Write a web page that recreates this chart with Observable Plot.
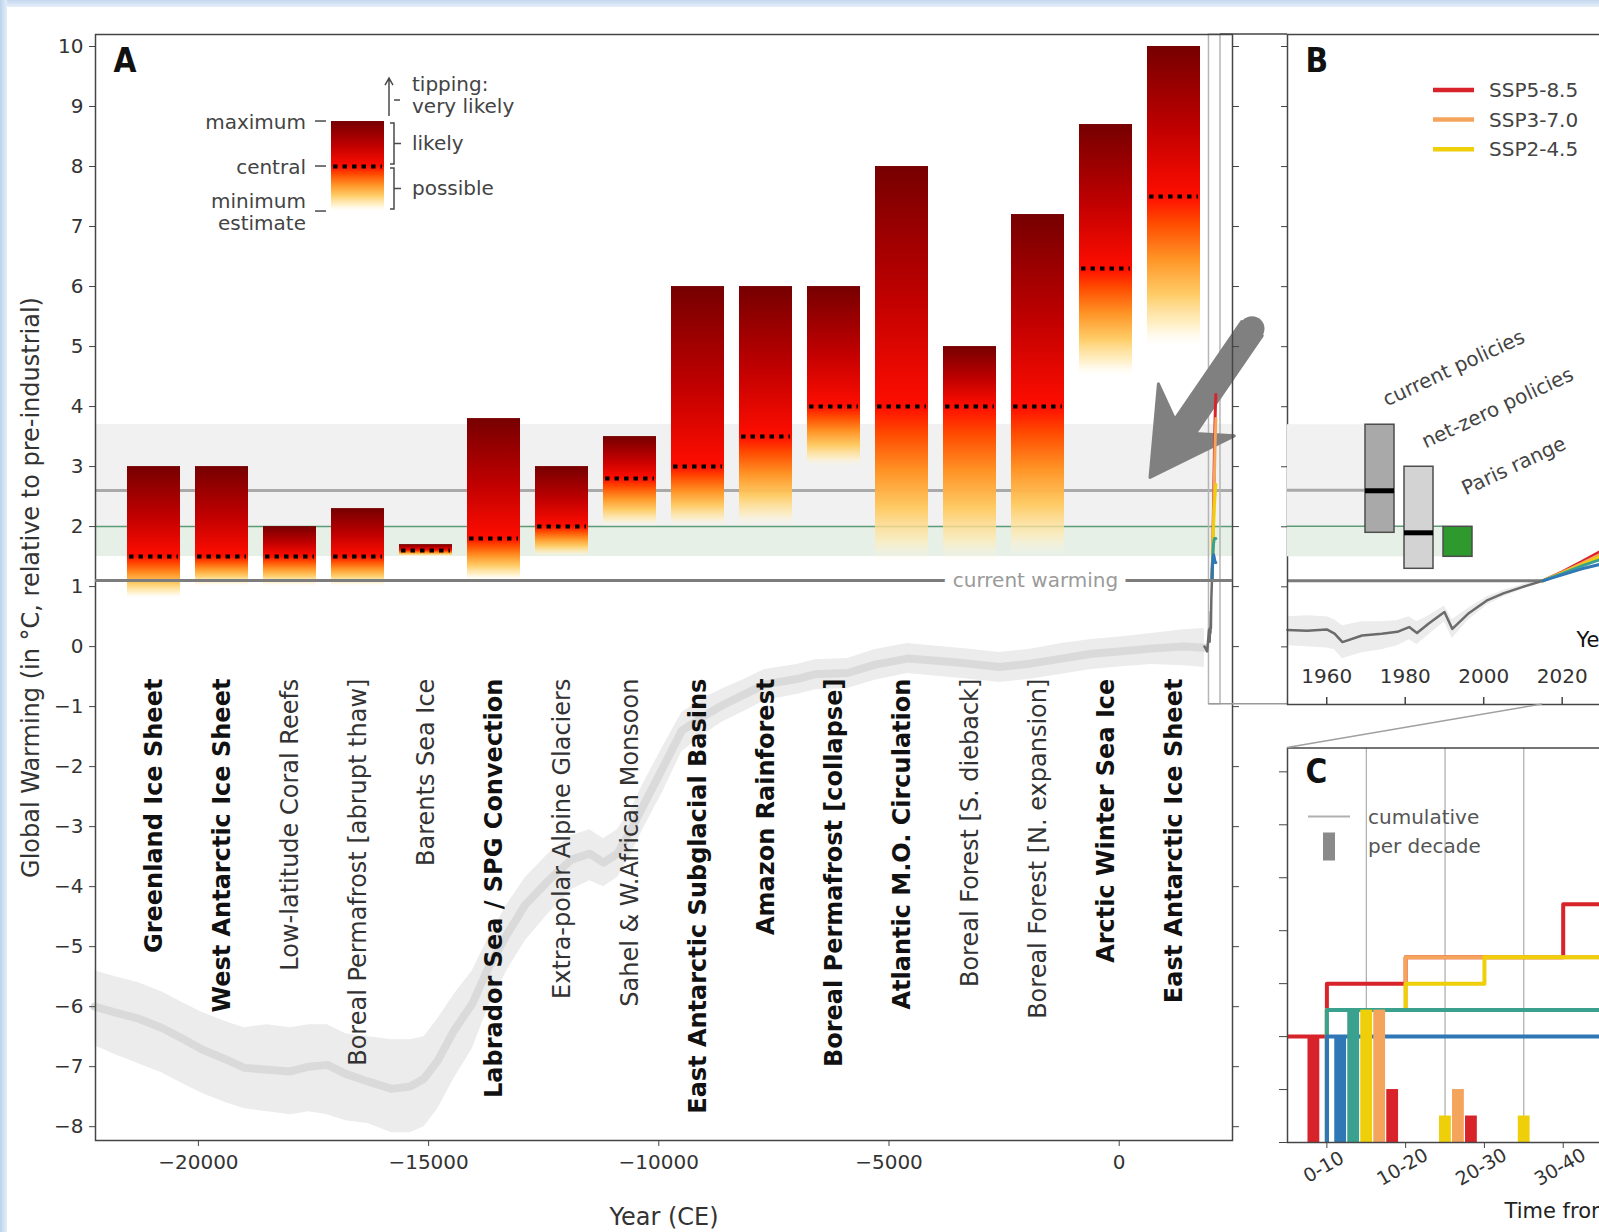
<!DOCTYPE html>
<html>
<head>
<meta charset="utf-8">
<script src="https://cdn.jsdelivr.net/npm/d3@7"></script>
<script src="https://cdn.jsdelivr.net/npm/@observablehq/plot@0.6"></script>
<style>
  html, body { margin: 0; padding: 0; background: #ffffff; }
  #fig { position: relative; width: 1599px; height: 1232px; overflow: hidden; background: #ffffff; }
  .edge-top { position: absolute; left: 0; top: 0; width: 1599px; height: 7px; background: linear-gradient(#c4d8ef, #e6eff9); }
  .edge-left { position: absolute; left: 0; top: 0; width: 7px; height: 1232px; background: linear-gradient(90deg, #bcd3ec, #e4eef9); }
</style>
</head>
<body>
<div id="fig"><div class="edge-top"></div><div class="edge-left"></div></div>
<script>
// ===================== DATA =====================
// Panel A: tipping elements and their threshold estimates (°C)
const elementNames = [
  "Greenland Ice Sheet", "West Antarctic Ice Sheet", "Low-latitude Coral Reefs",
  "Boreal Permafrost [abrupt thaw]", "Barents Sea Ice", "Labrador Sea / SPG Convection",
  "Extra-polar Alpine Glaciers", "Sahel & W.African Monsoon", "East Antarctic Subglacial Basins",
  "Amazon Rainforest", "Boreal Permafrost [collapse]", "Atlantic M.O. Circulation",
  "Boreal Forest [S. dieback]", "Boreal Forest [N. expansion]", "Arctic Winter Sea Ice",
  "East Antarctic Ice Sheet"
];
const thresholdMin     = [0.8, 1.0, 1.0, 1.0, 1.5, 1.1, 1.5, 2.0, 2.0, 2.0, 3.0, 1.4, 1.4, 1.5, 4.5, 5.0];
const thresholdCentral = [1.5, 1.5, 1.5, 1.5, 1.6, 1.8, 2.0, 2.8, 3.0, 3.5, 4.0, 4.0, 4.0, 4.0, 6.3, 7.5];
const thresholdMax     = [3.0, 3.0, 2.0, 2.3, 1.7, 3.8, 3.0, 3.5, 6.0, 6.0, 6.0, 8.0, 5.0, 7.2, 8.7, 10.0];
const isCoreElement    = [true, true, false, false, false, true, false, false, true, true, true, true, false, false, true, true];

// legend glyph (example threshold)
const legendGlyph = {min: 7.25, central: 8.0, max: 8.75};

// Temperature reconstruction since the Last Glacial Maximum
const holoYears = [-22250, -21800, -21300, -20800, -20300, -19900, -19400, -19000, -18500, -18000, -17600, -17200, -16800, -16300, -15800, -15400, -15100, -14800, -14450, -14050, -13700, -13300, -12900, -12400, -11900, -11500, -11200, -10900, -10600, -10350, -9900, -9500, -9000, -8600, -8150, -7700, -7000, -6600, -5900, -5300, -4600, -3900, -3300, -2600, -1900, -1250, -600, 0, 700, 1400, 1850];
const holoMid = [-6.0, -6.1, -6.2, -6.35, -6.55, -6.72, -6.88, -7.02, -7.05, -7.08, -7.0, -6.97, -7.12, -7.25, -7.37, -7.33, -7.2, -6.9, -6.4, -5.95, -5.35, -4.8, -4.3, -3.9, -3.55, -3.45, -3.6, -3.45, -3.05, -2.67, -2.0, -1.4, -1.15, -0.97, -0.8, -0.63, -0.54, -0.46, -0.44, -0.3, -0.2, -0.24, -0.28, -0.34, -0.28, -0.2, -0.12, -0.08, -0.03, 0.0, -0.02];
const holoHi = [-5.4, -5.5, -5.6, -5.75, -5.95, -6.1, -6.25, -6.35, -6.3, -6.35, -6.3, -6.3, -6.45, -6.5, -6.55, -6.55, -6.5, -6.2, -5.8, -5.4, -4.85, -4.3, -3.85, -3.45, -3.15, -3.05, -3.2, -3.05, -2.7, -2.3, -1.65, -1.1, -0.85, -0.7, -0.55, -0.38, -0.3, -0.22, -0.2, -0.05, 0.05, 0.0, -0.04, -0.1, -0.04, 0.05, 0.12, 0.16, 0.22, 0.28, 0.3];
const holoLo = [-6.65, -6.8, -6.95, -7.1, -7.3, -7.45, -7.6, -7.7, -7.75, -7.8, -7.75, -7.8, -7.9, -7.95, -8.1, -8.1, -8.0, -7.7, -7.2, -6.7, -6.0, -5.4, -4.9, -4.45, -4.05, -3.9, -4.0, -3.85, -3.45, -3.05, -2.4, -1.75, -1.45, -1.25, -1.08, -0.9, -0.8, -0.72, -0.7, -0.56, -0.45, -0.5, -0.54, -0.6, -0.54, -0.46, -0.38, -0.34, -0.3, -0.32, -0.35];

// Observed warming
const obsYears = [1850, 1880, 1910, 1940, 1950, 1955, 1960, 1962, 1964, 1969, 1974, 1978, 1981, 1983, 1986, 1990, 1992, 1996, 2001, 2005, 2010, 2015];
const obsT     = [0.0, -0.03, -0.08, 0.18, 0.28, 0.27, 0.29, 0.22, 0.08, 0.19, 0.22, 0.25, 0.33, 0.23, 0.39, 0.58, 0.30, 0.55, 0.78, 0.89, 1.0, 1.1];
const obsHi    = [0.2, 0.17, 0.12, 0.4, 0.5, 0.52, 0.5, 0.45, 0.35, 0.42, 0.42, 0.44, 0.5, 0.42, 0.52, 0.68, 0.45, 0.64, 0.84, 0.94, 1.04, 1.13];
const obsLo    = [-0.2, -0.23, -0.28, -0.05, 0.02, 0.0, -0.02, -0.05, -0.2, -0.1, -0.05, 0.02, 0.12, 0.04, 0.2, 0.42, 0.14, 0.44, 0.7, 0.83, 0.96, 1.07];
const currentWarming = 1.1;

// Scenario projections
const sspNames = ["SSP5-8.5", "SSP3-7.0", "SSP2-4.5", "SSP1-2.6", "SSP1-1.9"];
const sspYears = [2015, 2020, 2025, 2030, 2040, 2050, 2060, 2070, 2080, 2090, 2100];
const ssp585 = [1.1, 1.25, 1.42, 1.6, 1.95, 2.4, 2.85, 3.3, 3.7, 4.0, 4.2];
const ssp370 = [1.1, 1.24, 1.39, 1.55, 1.88, 2.2, 2.55, 2.9, 3.25, 3.55, 3.8];
const ssp245 = [1.1, 1.23, 1.37, 1.51, 1.78, 2.0, 2.2, 2.38, 2.5, 2.62, 2.7];
const ssp126 = [1.1, 1.22, 1.35, 1.46, 1.62, 1.72, 1.77, 1.8, 1.8, 1.8, 1.8];
const ssp119 = [1.1, 1.2, 1.3, 1.38, 1.48, 1.53, 1.5, 1.46, 1.42, 1.4, 1.4];

// Policy warming ranges (panel B)
const policyNames = ["current policies", "net-zero policies", "Paris range"];
const policyLow  = [1.9, 1.3, 1.5];
const policyMid  = [2.6, 1.9, null];
const policyHigh = [3.7, 3.0, 2.0];

// Panel C: tipping points crossed per decade
const decadeStarts = [0, 10, 20, 30];
const decadeLabels = ["0-10", "10-20", "20-30", "30-40"];
const allDecades = [-10, 0, 10, 20, 30, 40, 50, 60];
const perDecadeDecade   = [-10, 0, 0, 0, 0, 0, 10, 10, 10, 20, 30];
const perDecadeScenario = ["SSP5-8.5", "SSP1-1.9", "SSP1-2.6", "SSP2-4.5", "SSP3-7.0", "SSP5-8.5", "SSP2-4.5", "SSP3-7.0", "SSP5-8.5", "SSP2-4.5", "SSP5-8.5"];
const perDecadeCount    = [2, 2, 2.5, 2.5, 2.5, 1, 0.5, 1, 0.5, 0.5, 1];
const cGridLines = [5, 15, 25, 35, 45, 55];

// Tick values
const yTicksA = [-8, -7, -6, -5, -4, -3, -2, -1, 0, 1, 2, 3, 4, 5, 6, 7, 8, 9, 10];
const xTicksA = [-20000, -15000, -10000, -5000, 0];
const yTicksB = [0, 1, 2, 3, 4, 5, 6, 7, 8, 9, 10];
const xTicksB = [1960, 1980, 2000, 2020];
const yTicksC = [0, 1, 2, 3, 4, 5, 6, 7];

// Annotation arrow (from the inset towards the thresholds)
const arrowNote = {fromYear: 2895, fromT: 5.29, toYear: 680, toT: 2.81};

// ===================== STYLE / LAYOUT =====================
const FONT = "'DejaVu Sans', 'Liberation Sans', sans-serif";
const LETTER_FONT = "'DejaVu Sans Condensed', 'DejaVu Sans', sans-serif";
const TEXT = "#333333";
const AXIS = "#454545";
const sspColors = ["#d8232a", "#f5a45c", "#efcf0a", "#3aa18e", "#2f77b5"];
const policyColors = ["#a9a9a9", "#d3d3d3", "#2e9a2e"];
const baseStyle = {background: "transparent", overflow: "visible", fontFamily: FONT, fontSize: "20px", color: TEXT};

const xDomainA = [-22235, 2461], yDomainA = [-8.23, 10.2];
const xDomainB = [1950, 2200], yDomainB = [-0.96, 10.2];
const xDomainC = [-5, 60], yDomainC = [0, 7.45];

const posA = {left: 0, top: 0}, posB = {left: 1240, top: 0}, posC = {left: 1240, top: 700};
const frameA = {width: 1287, height: 1232, marginTop: 34, marginRight: 55, marginBottom: 92, marginLeft: 95};
const frameB = {width: 1038, height: 750, marginTop: 34, marginRight: 10, marginBottom: 46, marginLeft: 47};
const frameC = {width: 569, height: 532, marginTop: 47.5, marginRight: 10, marginBottom: 90, marginLeft: 47};

// ===================== TABLES =====================
const thresholds = elementNames.map((name, i) => ({
  name, min: thresholdMin[i], central: thresholdCentral[i], max: thresholdMax[i], core: isCoreElement[i], gid: "grad-el-" + i
}));
const legendRow = {name: elementNames[3], ...legendGlyph, gid: "grad-legend"};
const holocene = holoYears.map((year, i) => ({year, mid: holoMid[i], lo: holoLo[i], hi: holoHi[i]}));
const observed = obsYears.map((year, i) => ({year, t: obsT[i], lo: obsLo[i], hi: obsHi[i]}));
const observedB = observed.filter(d => d.year >= xDomainB[0]);
const sspSeries = [ssp585, ssp370, ssp245, ssp126, ssp119];
const projections = sspNames.flatMap((name, k) => sspYears.map((year, i) => ({name, year, t: sspSeries[k][i]})));
const policies = policyNames.map((name, i) => ({name, low: policyLow[i], mid: policyMid[i], high: policyHigh[i], fill: policyColors[i]}));
const perDecade = perDecadeCount.map((count, i) => ({decade: perDecadeDecade[i], name: perDecadeScenario[i], count}));
const cumulative = sspNames.flatMap(name => {
  const rows = perDecade.filter(d => d.name === name);
  if (!rows.length) return [];
  const first = d3.min(rows, d => d.decade);
  const pts = [{name, x: first, y: 0}];
  let total = 0;
  for (const dec of allDecades.filter(d => d >= first)) {
    total += d3.sum(rows.filter(r => r.decade === dec), r => r.count);
    pts.push({name, x: dec, y: total});
  }
  return pts;
});
const dodgeIndex = name => sspNames.length - 1 - sspNames.indexOf(name);

// ===================== CUSTOM DRAW HELPERS =====================
const fig = document.getElementById("fig");
function mount(node, pos) {
  node.style.position = "absolute";
  node.style.left = pos.left + "px";
  node.style.top = pos.top + "px";
  fig.appendChild(node);
  return node;
}

function gradientDefs(rows) {
  return () => {
    const defs = d3.create("svg:defs");
    for (const r of rows) {
      const c = (r.max - r.central) / (r.max - r.min);
      const b = 1 - c;
      const lg = defs.append("linearGradient").attr("id", r.gid)
        .attr("x1", 0).attr("y1", 0).attr("x2", 0).attr("y2", 1);
      [[0, "#760000", 1], [c * 0.55, "#c00000", 1], [c, "#ff0d00", 1],
       [c + b * 0.18, "#ff4b00", 1], [c + b * 0.42, "#ff9426", 1],
       [c + b * 0.66, "#ffca60", 0.95], [c + b * 0.86, "#ffeab0", 0.7], [1, "#fff8e6", 0]]
        .forEach(([o, col, op]) => lg.append("stop").attr("offset", o).attr("stop-color", col).attr("stop-opacity", op));
    }
    return defs.node();
  };
}

function legendDecor(index, scales) {
  const x = scales.x, y = scales.y;
  const bw = typeof x.bandwidth === "function" ? x.bandwidth() : 53;
  const left = x(legendRow.name), right = left + bw;
  const g = d3.create("svg:g").attr("fill", "none").attr("stroke", "#4a4a4a").attr("stroke-width", 1.5);
  [legendRow.max, legendRow.central, legendRow.min].forEach(v =>
    g.append("path").attr("d", `M${left - 16},${y(v)}H${left - 5}`));
  const bx = right + 10;
  const bracket = (a, b) => {
    const ya = y(a) + 2, yb = y(b) - 2;
    g.append("path").attr("d", `M${bx - 4},${ya}H${bx}V${yb}H${bx - 4}M${bx},${(ya + yb) / 2}H${bx + 7}`);
  };
  bracket(legendRow.max, legendRow.central);
  bracket(legendRow.central, legendRow.min);
  const ax = right + 5, ay0 = y(legendRow.max) - 5, ay1 = ay0 - 38;
  g.append("path").attr("d", `M${ax},${ay0}V${ay1}M${ax - 4},${ay1 + 7}L${ax},${ay1}L${ax + 4},${ay1 + 7}`);
  g.append("path").attr("d", `M${ax + 5},${(ay0 + ay1) / 2 + 3}H${ax + 11}`);
  return g.node();
}

function bigArrow(index, scales) {
  const x0 = scales.x(arrowNote.fromYear), y0 = scales.y(arrowNote.fromT);
  const x1 = scales.x(arrowNote.toYear), y1 = scales.y(arrowNote.toT);
  const dx = x1 - x0, dy = y1 - y0, L = Math.hypot(dx, dy);
  const ux = dx / L, uy = dy / L, nx = -uy, ny = ux;
  const w = 12.5, hw = 46, hl = 82, neck = 62;
  const P = (a, b) => [x0 + ux * a + nx * b, y0 + uy * a + ny * b];
  const pts = [P(0, w), P(L - neck, w), P(L - hl, hw), P(L, 0), P(L - hl, -hw), P(L - neck, -w), P(0, -w)];
  const path = "M" + pts.map(p => p.join(",")).join("L") + "Z";
  const g = d3.create("svg:g");
  g.append("path").attr("d", path).attr("fill", "#808080").attr("stroke", "#808080")
    .attr("stroke-width", 3).attr("stroke-linejoin", "round");
  g.append("circle").attr("cx", x0).attr("cy", y0).attr("r", w).attr("fill", "#808080");
  return g.node();
}

function insetConnectors(index, scales, values, dims) {
  const g = d3.create("svg:g");
  const yb = scales.y(yDomainB[0]), yt = scales.y(yDomainB[1]);
  g.append("line").attr("x1", scales.x(xDomainB[0])).attr("x2", dims.width).attr("y1", yb).attr("y2", yb)
    .attr("stroke", "#9a9a9a").attr("stroke-width", 1.5);
  g.append("line").attr("x1", scales.x(xDomainB[1])).attr("x2", dims.width).attr("y1", yt).attr("y2", yt)
    .attr("stroke", AXIS).attr("stroke-width", 1.5);
  return g.node();
}

function policyBackdrop(index, scales, values, dims) {
  const x = scales.x, y = scales.y, left = dims.marginLeft;
  const cur = policies[0], paris = policies[2];
  const g = d3.create("svg:g");
  g.append("rect").attr("x", left).attr("y", y(cur.high)).attr("width", x(cur.name) - left)
    .attr("height", y(cur.low) - y(cur.high)).attr("fill", "#f1f1f1");
  g.append("rect").attr("x", left).attr("y", y(paris.high)).attr("width", x(paris.name) - left)
    .attr("height", y(paris.low) - y(paris.high)).attr("fill", "#e7f0e7");
  g.append("line").attr("x1", left).attr("x2", x(cur.name)).attr("y1", y(cur.mid)).attr("y2", y(cur.mid))
    .attr("stroke", "#a9a9a9").attr("stroke-width", 3);
  g.append("line").attr("x1", left).attr("x2", x(paris.name)).attr("y1", y(paris.high)).attr("y2", y(paris.high))
    .attr("stroke", "#5c9c77").attr("stroke-width", 1.5);
  return g.node();
}

function sspLegend(index, scales, values, dims) {
  const g = d3.create("svg:g");
  sspNames.slice(0, 3).forEach((name, i) => {
    const y = dims.marginTop + 56 + i * 29.6, x = dims.marginLeft + 146;
    g.append("line").attr("x1", x).attr("x2", x + 41).attr("y1", y).attr("y2", y)
      .attr("stroke", sspColors[i]).attr("stroke-width", 4.5);
    g.append("text").attr("x", x + 56).attr("y", y).attr("dy", "0.35em").attr("fill", "#444")
      .attr("text-anchor", "start").attr("font-size", 20).text(name);
  });
  return g.node();
}

function decadeLegend(index, scales, values, dims) {
  const g = d3.create("svg:g");
  const x0 = dims.marginLeft, y0 = dims.marginTop;
  g.append("line").attr("x1", x0 + 21).attr("x2", x0 + 63).attr("y1", y0 + 69).attr("y2", y0 + 69)
    .attr("stroke", "#b0b0b0").attr("stroke-width", 2);
  g.append("rect").attr("x", x0 + 36).attr("y", y0 + 85).attr("width", 12).attr("height", 28).attr("fill", "#8a8a8a");
  g.append("text").attr("x", x0 + 81).attr("y", y0 + 69).attr("dy", "0.35em").attr("fill", "#555")
    .attr("text-anchor", "start").attr("font-size", 20).text("cumulative");
  g.append("text").attr("x", x0 + 81).attr("y", y0 + 98).attr("dy", "0.35em").attr("fill", "#555")
    .attr("text-anchor", "start").attr("font-size", 20).text("per decade");
  return g.node();
}

const panelLetter = (letter) => Plot.text([letter], {
  frameAnchor: "top-left", dx: 18, dy: 14, textAnchor: "start", lineAnchor: "top",
  fontFamily: LETTER_FONT, fontWeight: "bold", fontSize: 33, fill: "#111", text: d => d
});

// ===================== PANEL A: background, curves, axes =====================
const chartA = Plot.plot({
  ...frameA, style: baseStyle,
  x: {domain: xDomainA, axis: null, label: null},
  y: {domain: yDomainA, axis: null, label: null},
  color: {domain: sspNames, range: sspColors},
  marks: [
    Plot.rect([policies[0]], {y1: "low", y2: "high", fill: "#f1f1f1"}),
    Plot.rect([policies[2]], {y1: "low", y2: "high", fill: "#e7f0e7"}),
    Plot.ruleY([policies[0]], {y: "mid", stroke: "#a9a9a9", strokeWidth: 3}),
    Plot.ruleY([policies[2]], {y: "high", stroke: "#5c9c77", strokeWidth: 1.5}),
    Plot.areaY(holocene, {x: "year", y1: "lo", y2: "hi", fill: "#ececec"}),
    Plot.line(holocene, {x: "year", y: "mid", stroke: "#dadada", strokeWidth: 8, strokeLinejoin: "round"}),
    Plot.rect([xDomainB], {x1: d => d[0], x2: d => d[1], y1: () => yDomainB[0], y2: () => yDomainB[1],
      fill: "none", stroke: "#b5b5b5", strokeWidth: 1.5}),
    bigArrow,
    Plot.line(observed, {x: "year", y: "t", stroke: "#6b6b6b", strokeWidth: 2.5}),
    Plot.line(projections, {x: "year", y: "t", z: "name", stroke: "name", strokeWidth: 3}),
    Plot.axisY({ticks: yTicksA, tickSize: 6, tickPadding: 6, tickFormat: d3.format("d"), color: TEXT, stroke: AXIS, fontSize: 20, label: null}),
    Plot.axisY({anchor: "right", ticks: yTicksA, tickSize: 6, tickFormat: () => "", stroke: AXIS, label: null}),
    Plot.axisX({ticks: xTicksA, tickSize: 6, tickPadding: 8, tickFormat: d3.format("d"), color: TEXT, stroke: AXIS, fontSize: 20, label: null}),
    Plot.frame({stroke: AXIS, strokeWidth: 1.5}),
    insetConnectors,
    panelLetter("A"),
    Plot.text(["Global Warming (in °C, relative to pre-industrial)"], {frameAnchor: "left", dx: -64, rotate: -90,
      textAnchor: "middle", lineAnchor: "middle", fontSize: 24, fill: TEXT, text: d => d}),
    Plot.text(["Year (CE)"], {frameAnchor: "bottom", dy: 77, lineAnchor: "middle", fontSize: 24, fill: TEXT, text: d => d})
  ]
});
mount(chartA, posA);

// ===================== PANEL A: threshold bars (categorical overlay) =====================
const chartBars = Plot.plot({
  ...frameA, style: baseStyle,
  x: {type: "band", domain: elementNames, paddingInner: 0.22, paddingOuter: 0.46, axis: null, label: null},
  y: {domain: yDomainA, axis: null, label: null},
  color: {type: "identity"},
  marks: [
    gradientDefs([...thresholds, legendRow]),
    Plot.barY(thresholds, {x: "name", y1: "min", y2: "max", fill: d => `url(#${d.gid})`}),
    Plot.tickY(thresholds, {x: "name", y: "central", stroke: "#000", strokeWidth: 4, strokeDasharray: "4.5 5", inset: 2}),
    Plot.barY([legendRow], {x: "name", y1: "min", y2: "max", fill: d => `url(#${d.gid})`}),
    Plot.tickY([legendRow], {x: "name", y: "central", stroke: "#000", strokeWidth: 4, strokeDasharray: "4.5 5", inset: 2}),
    legendDecor,
    Plot.text([
      {label: "maximum", v: legendRow.max}, {label: "central", v: legendRow.central}, {label: "minimum\nestimate", v: legendRow.min}
    ], {x: () => legendRow.name, y: "v", text: "label", textAnchor: "end", dx: -52, lineHeight: 1.1, fontSize: 20, fill: "#444"}),
    Plot.text([
      {label: "likely", v: (legendRow.max + legendRow.central) / 2}, {label: "possible", v: (legendRow.central + legendRow.min) / 2}
    ], {x: () => legendRow.name, y: "v", text: "label", textAnchor: "start", dx: 54, fontSize: 20, fill: "#444"}),
    Plot.text(["tipping:\nvery likely"], {x: () => legendRow.name, y: () => legendRow.max, dy: -27, text: d => d,
      textAnchor: "start", dx: 54, lineHeight: 1.1, fontSize: 20, fill: "#444"}),
    Plot.ruleY([currentWarming], {stroke: "#7d7d7d", strokeWidth: 3}),
    Plot.text(["current warming"], {y: () => currentWarming, frameAnchor: "right", dx: -197, textAnchor: "middle",
      text: d => d, fill: "#9a9a9a", stroke: "#ffffff", strokeWidth: 18, paintOrder: "stroke", fontSize: 20}),
    Plot.text(thresholds.filter(d => d.core), {x: "name", y: () => 0, text: "name", rotate: -90, textAnchor: "end",
      lineAnchor: "middle", dy: 32, fontWeight: "bold", fontSize: 24, fill: "#111"}),
    Plot.text(thresholds.filter(d => !d.core), {x: "name", y: () => 0, text: "name", rotate: -90, textAnchor: "end",
      lineAnchor: "middle", dy: 32, fontSize: 24, fill: "#333"})
  ]
});
mount(chartBars, posA);

// ===================== PANEL B =====================
const chartB = Plot.plot({
  ...frameB, style: baseStyle,
  x: {domain: xDomainB, axis: null, label: null},
  y: {domain: yDomainB, axis: null, label: null},
  color: {domain: sspNames, range: sspColors},
  marks: [
    Plot.areaY(observedB, {x: "year", y1: "lo", y2: "hi", fill: "#ececec"}),
    Plot.ruleY([currentWarming], {x1: xDomainB[0], x2: obsYears[obsYears.length - 1], stroke: "#7a7a7a", strokeWidth: 3}),
    Plot.line(observedB, {x: "year", y: "t", stroke: "#6b6b6b", strokeWidth: 2.5}),
    Plot.line(projections, {x: "year", y: "t", z: "name", stroke: "name", strokeWidth: 3}),
    Plot.axisY({ticks: yTicksB, tickSize: 6, tickFormat: () => "", stroke: AXIS, label: null}),
    Plot.tickX(xTicksB, {x: d => d, insetTop: frameB.height - frameB.marginTop - frameB.marginBottom - 7, stroke: AXIS, strokeWidth: 1.5}),
    Plot.text(xTicksB, {x: d => d, text: d => String(d), frameAnchor: "bottom", dy: -22, fill: TEXT, fontSize: 20}),
    Plot.frame({stroke: AXIS, strokeWidth: 1.5}),
    panelLetter("B"),
    Plot.text(["Year"], {frameAnchor: "bottom-left", dx: 289, dy: -58, textAnchor: "start", text: d => d, fill: "#111", fontSize: 21}),
    sspLegend
  ]
});
mount(chartB, posB);

const chartBoxes = Plot.plot({
  ...frameB, style: baseStyle,
  x: {type: "band", domain: policyNames, range: [124, 232], paddingInner: 0.26, paddingOuter: 0, axis: null, label: null},
  y: {domain: yDomainB, axis: null, label: null},
  color: {type: "identity"},
  marks: [
    policyBackdrop,
    Plot.barY(policies, {x: "name", y1: "low", y2: "high", fill: "fill", stroke: "#4d4d4d", strokeWidth: 1.5}),
    Plot.tickY(policies.filter(d => d.mid != null), {x: "name", y: "mid", stroke: "#000", strokeWidth: 5}),
    Plot.text(policies.slice(0, 2), {x: "name", y: "high", text: "name", rotate: -25, textAnchor: "start", dx: 4, dy: -24, fill: "#444", fontSize: 20}),
    Plot.text(policies.slice(2), {x: "name", y: "high", text: "name", rotate: -25, textAnchor: "start", dx: 5, dy: -37, fill: "#444", fontSize: 20})
  ]
});
mount(chartBoxes, posB);

// ===================== PANEL C =====================
const chartC = Plot.plot({
  ...frameC, style: baseStyle,
  x: {domain: xDomainC, axis: null, label: null},
  y: {domain: yDomainC, axis: null, label: null},
  color: {domain: sspNames, range: sspColors},
  marks: [
    Plot.ruleX(cGridLines, {stroke: "#9a9a9a", strokeWidth: 1}),
    Plot.line(cumulative, {x: "x", y: "y", z: "name", stroke: "name", strokeWidth: 4, curve: "step-after", clip: true}),
    Plot.rect(perDecade, {
      x1: d => d.decade + 1 + dodgeIndex(d.name) * 1.65,
      x2: d => d.decade + 2.5 + dodgeIndex(d.name) * 1.65,
      y1: () => 0, y2: "count", fill: "name", clip: true
    }),
    Plot.axisY({ticks: yTicksC, tickSize: 8, tickFormat: () => "", stroke: AXIS, label: null}),
    Plot.axisX({ticks: decadeStarts, tickSize: 6, tickFormat: () => "", stroke: AXIS, label: null}),
    Plot.text(decadeStarts, {x: d => d, text: (d, i) => decadeLabels[i], frameAnchor: "bottom", dy: 30, rotate: -30, fill: TEXT, fontSize: 19}),
    Plot.frame({stroke: AXIS, strokeWidth: 1.5}),
    Plot.text(["C"], {frameAnchor: "top-left", dx: 18, dy: 12, textAnchor: "start", lineAnchor: "top",
      fontFamily: LETTER_FONT, fontWeight: "bold", fontSize: 33, fill: "#111", text: d => d}),
    decadeLegend,
    Plot.text(["Time from 2015 (years)"], {frameAnchor: "bottom-left", dx: 217, dy: 75, textAnchor: "start", text: d => d, fill: "#222", fontSize: 21})
  ]
});
mount(chartC, posC);

// ===================== zoom connector B -> C =====================
const sxB = chartB.scale("x"), syB = chartB.scale("y"), sxC = chartC.scale("x"), syC = chartC.scale("y");
const link = d3.create("svg").attr("width", 1599).attr("height", 1232).style("pointer-events", "none");
link.append("line")
  .attr("x1", posB.left + sxB.apply(obsYears[obsYears.length - 1])).attr("y1", posB.top + syB.apply(yDomainB[0]))
  .attr("x2", posC.left + sxC.apply(xDomainC[0])).attr("y2", posC.top + syC.apply(yDomainC[1]))
  .attr("stroke", "#a0a0a0").attr("stroke-width", 1.5);
mount(link.node(), {left: 0, top: 0});
</script>
</body>
</html>
